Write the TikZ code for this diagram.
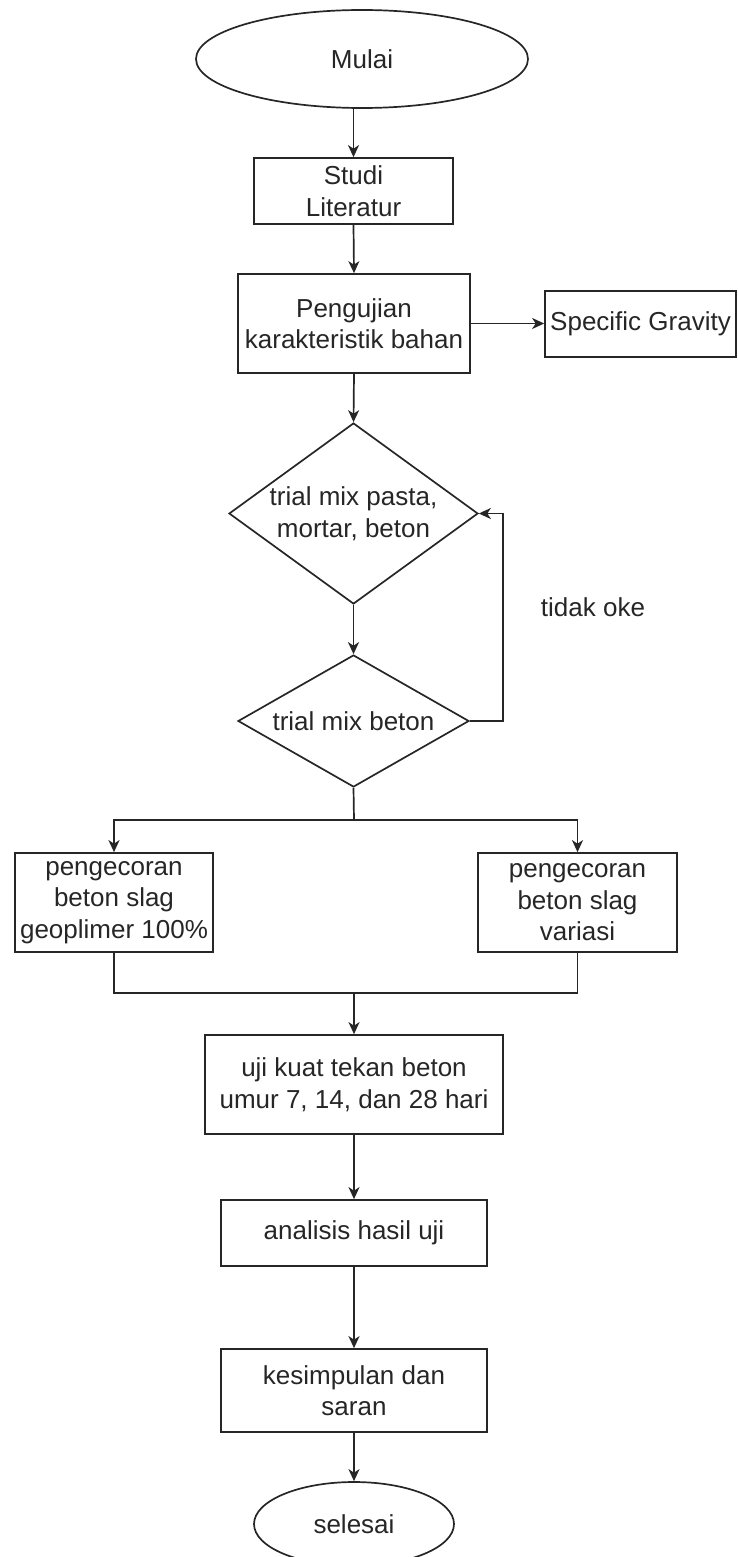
\documentclass[tikz,border=0pt]{standalone}
\usepackage{fontspec}
\setmainfont{Liberation Sans}
\usetikzlibrary{shapes.geometric,arrows.meta}
\begin{document}
\begin{tikzpicture}[x=1pt,y=-1pt,
  every node/.style={font={\fontsize{26pt}{31.5pt}\selectfont}, text=black!85, inner sep=2pt},
  line/.style={line width=1.7pt, draw=black!85},
  arr/.style={line, -{Stealth[length=12pt,width=11pt,inset=3.5pt]}},
  box/.style={rectangle, line, align=center},
  oval/.style={ellipse, line, inner sep=0pt},
  dia/.style={diamond, line, inner sep=0pt}
]
\useasboundingbox (0,0) rectangle (738,1557);
\clip (0,0) rectangle (738,1557);

\node[oval, minimum width=332pt, minimum height=98pt] (mulai) at (362,59) {Mulai};
\node[box, minimum width=199pt, minimum height=66pt] (studi) at (353.5,191) {Studi\\Literatur};
\node[box, minimum width=232pt, minimum height=99pt] (peng) at (354,323.5) {Pengujian\\karakteristik bahan};
\node[box, minimum width=191pt, minimum height=66pt] (sg) at (640.5,324) {Specific Gravity};

\node[dia, minimum width=249pt, minimum height=181pt] (d1) at (353.5,513.5) {};
\node[align=center] (d1t) at (d1) {trial mix pasta,\\mortar, beton};
\node[dia, minimum width=231pt, minimum height=132pt] (d2) at (353.5,721) {};
\node (d2t) at (d2) {trial mix beton};
\node (tidak) at (593,607) {tidak oke};

\node[box, minimum width=198pt, minimum height=99pt] (pc1) at (114,902.5) {pengecoran\\beton slag\\geoplimer 100\%};
\node[box, minimum width=199pt, minimum height=99pt] (pc2) at (577.5,902.5) {pengecoran\\beton slag\\variasi};
\node[box, minimum width=298pt, minimum height=99pt] (ujikt) at (354,1084.5) {uji kuat tekan beton\\umur 7, 14, dan 28 hari};
\node[box, minimum width=266pt, minimum height=66pt] (anal) at (354,1233) {analisis hasil uji};
\node[box, minimum width=266pt, minimum height=83pt] (kes) at (354,1390.5) {kesimpulan dan\\saran};
\node[oval, minimum width=200pt, minimum height=84pt] (selesai) at (354,1524) {selesai};

\coordinate (loopx) at (503,0);
\coordinate (split) at (354,820);
\coordinate (merge) at (354,993);

\draw[arr] (mulai.south -| studi.north) -- (studi.north);
\draw[arr] (studi.south) -- (peng.north);
\draw[arr] (peng.east) -- (sg.west |- peng.east);
\draw[arr] (peng.south) -- (d1.north);
\draw[arr] (d1.south) -- (d2.north);
\draw[arr] (d2.east) -- (d2.east -| loopx) |- (d1.east);
\draw[line] (d2.south) -- (split);
\draw[arr] (split) -| (pc1.north);
\draw[arr] (split) -| (pc2.north);
\draw[line] (pc1.south) |- (merge) -| (pc2.south);
\draw[arr] (merge) -- (ujikt.north);
\draw[arr] (ujikt.south) -- (anal.north);
\draw[arr] (anal.south) -- (kes.north);
\draw[arr] (kes.south) -- (selesai.north);
\end{tikzpicture}
\end{document}
